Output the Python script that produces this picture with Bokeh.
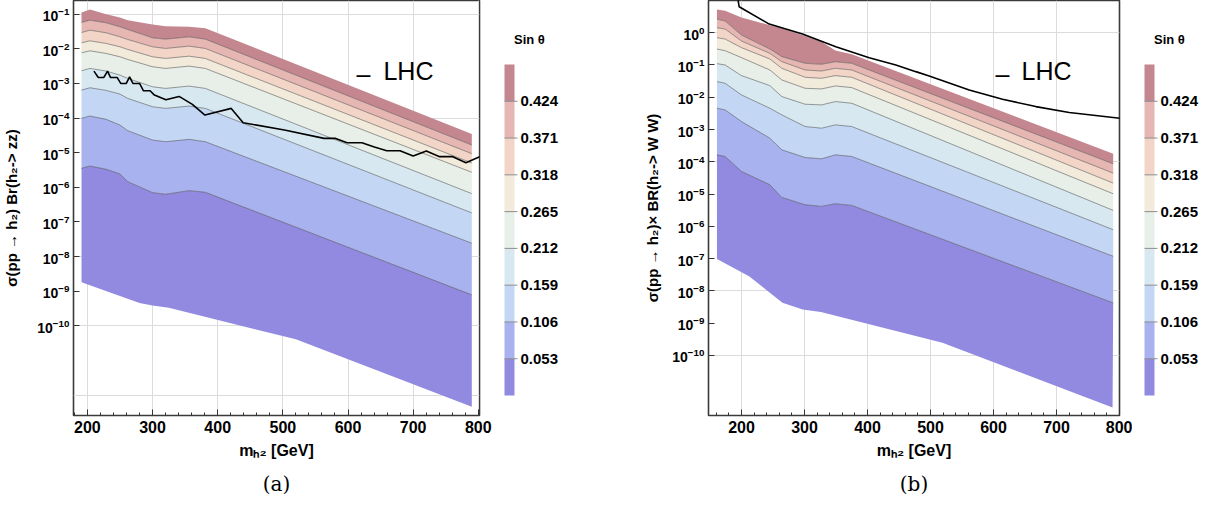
from bokeh.plotting import figure
from bokeh.models import (FixedTicker, SingleIntervalTicker, LogTickFormatter,
                          Label, Title, ColumnDataSource)
from bokeh.core.properties import value
from bokeh.layouts import row
from bokeh.embed import file_html
from bokeh.resources import INLINE

# ---------------- common ----------------
levels = [0.0, 0.053, 0.106, 0.159, 0.212, 0.265, 0.318, 0.371, 0.424, 0.477]
tick_levels = [0.053, 0.106, 0.159, 0.212, 0.265, 0.318, 0.371, 0.424]
tick_labels = ["0.053", "0.106", "0.159", "0.212", "0.265", "0.318", "0.371", "0.424"]
band_colors = ["#918ae0", "#a8b2ef", "#c3d7f4", "#d7e8f1", "#e7efe8",
               "#f2eadb", "#f2d5c7", "#e6b7b2", "#c4868f"]   # low -> high sin(theta)

# ---------------- panel (a): log10 of sigma*Br(h2->ZZ) ----------------
mass_a = [191, 204, 229, 250, 262, 300, 320, 356, 381, 790]
top_a = [-0.952, -0.865, -1.000, -1.096, -1.173, -1.298, -1.346, -1.365, -1.404, -4.462]
c424_a = [-1.240, -1.173, -1.250, -1.365, -1.442, -1.683, -1.721, -1.654, -1.721, -4.779]
c371_a = [-1.529, -1.462, -1.538, -1.654, -1.731, -1.942, -1.990, -1.923, -1.990, -5.029]
c318_a = [-1.827, -1.769, -1.846, -1.942, -2.019, -2.231, -2.279, -2.212, -2.279, -5.298]
c265_a = [-2.115, -2.058, -2.135, -2.231, -2.308, -2.519, -2.567, -2.500, -2.567, -5.567]
c212_a = [-2.635, -2.567, -2.644, -2.760, -2.856, -3.096, -3.144, -3.077, -3.144, -6.183]
c159_a = [-3.192, -3.125, -3.202, -3.308, -3.433, -3.673, -3.721, -3.654, -3.721, -6.740]
c106_a = [-4.010, -3.942, -4.038, -4.202, -4.365, -4.635, -4.683, -4.615, -4.683, -7.615]
c053_a = [-5.452, -5.385, -5.481, -5.615, -5.837, -6.154, -6.202, -6.096, -6.144, -9.106]
mass_bottom_a = [191, 280, 300, 325, 520, 790]
bottom_a = [-8.74, -9.34, -9.41, -9.48, -10.39, -12.34]
lhc_mass_a = [210.1, 216.7, 225.3, 230.9, 235.4, 245.6, 251.2, 259.7, 264.8, 269.9, 280.1,
              286.1, 296.2, 302.9, 320.5, 340.8, 361.1, 380.4, 420.8, 439.1, 502.4, 563.2,
              581.0, 598.6, 621.4, 639.2, 659.4, 679.8, 700.0, 720.2, 740.6, 760.8, 781.0, 802.0]
lhc_a = [-2.644, -2.827, -2.827, -2.644, -2.827, -2.827, -3.000, -3.000, -2.808, -3.000, -3.000,
         -3.212, -3.212, -3.337, -3.471, -3.375, -3.606, -3.913, -3.721, -4.135, -4.346, -4.587,
         -4.587, -4.712, -4.712, -4.827, -4.942, -4.942, -5.096, -4.952, -5.115, -5.115, -5.288, -5.115]

# ---------------- panel (b): log10 of sigma*BR(h2->WW) ----------------
mass_b = [161, 174, 200, 245, 264, 301, 327, 349, 375, 790]
top_b = [0.722, 0.680, 0.474, 0.230, 0.140, -0.100, -0.280, -0.550, -0.670, -3.753]
c424_b = [0.423, 0.361, -0.072, -0.505, -0.742, -0.948, -0.979, -0.897, -0.948, -4.062]
c371_b = [0.155, 0.113, -0.258, -0.639, -0.897, -1.155, -1.186, -1.103, -1.155, -4.351]
c318_b = [-0.155, -0.196, -0.464, -0.814, -1.103, -1.381, -1.412, -1.330, -1.381, -4.660]
c265_b = [-0.505, -0.557, -0.773, -1.155, -1.464, -1.722, -1.742, -1.649, -1.701, -4.990]
c212_b = [-0.959, -1.000, -1.330, -1.639, -1.979, -2.216, -2.237, -2.134, -2.186, -5.505]
c159_b = [-1.515, -1.567, -1.928, -2.340, -2.546, -2.907, -2.959, -2.856, -2.907, -6.103]
c106_b = [-2.340, -2.392, -2.753, -3.268, -3.629, -3.866, -3.907, -3.784, -3.835, -6.928]
c053_b = [-3.784, -3.835, -4.299, -4.711, -5.103, -5.330, -5.381, -5.299, -5.351, -8.371]
mass_bottom_b = [161, 212, 265, 297, 326, 519, 789]
bottom_b = [-7.008, -7.543, -8.368, -8.575, -8.656, -9.604, -11.614]
lhc_mass_b = [192.0, 196.3, 244.0, 296.8, 349.7, 402.7, 445.0, 476.7, 497.9, 561.4, 614.3,
              667.2, 720.2, 800.5]
lhc_b = [1.300, 0.803, 0.267, -0.043, -0.434, -0.774, -1.000, -1.206, -1.340, -1.773, -2.062,
         -2.289, -2.474, -2.649]

H = 509
FRAME_H = 415
FONT = "Liberation Sans"


def main_panel(width, border_left, x_range, y_log_range, mass, top, contours, mb, bottom,
               lm, lhc, y_ticks, grid_ticks, ylabel, ylabel_standoff, caption,
               leg_x, leg_y, dash_x, dash_y):
    p = figure(width=width, height=H, x_range=x_range,
               y_range=(10 ** y_log_range[0], 10 ** y_log_range[1]), y_axis_type="log",
               output_backend="svg", toolbar_location=None,
               min_border_left=border_left, min_border_right=13, min_border_top=0,
               min_border_bottom=H - FRAME_H)
    p.background_fill_color = "white"
    p.border_fill_color = "white"
    p.outline_line_color = "#3a3a3a"
    p.outline_line_width = 1.6
    p.outline_line_alpha = 1

    bounds = [(mass, top)] + [(mass, c) for c in contours] + [(mb, bottom)]
    cols = band_colors[::-1]
    for i in range(9):
        (xu, yu), (xl, yl) = bounds[i], bounds[i + 1]
        xs = list(xu) + list(xl)[::-1]
        ys = [10 ** v for v in yu] + [10 ** v for v in yl][::-1]
        p.patch(xs, ys, fill_color=cols[i], line_color=None)
    for c in contours:
        p.line(mass, [10 ** v for v in c], line_color="#4d4d4d", line_alpha=0.7, line_width=0.8)
    p.line(lm, [10 ** v for v in lhc], line_color="black", line_width=1.6)

    p.add_layout(Label(x=dash_x, y=10 ** dash_y, text="\u2013", text_font=FONT,
                       text_font_size="25px", text_color="black", text_baseline="alphabetic"))
    p.add_layout(Label(x=leg_x, y=10 ** leg_y, text="LHC", text_font=FONT,
                       text_font_size="25px", text_color="black", text_baseline="alphabetic"))

    # axes
    xa = p.xaxis[0]
    xa.ticker = SingleIntervalTicker(interval=100, num_minor_ticks=5)
    xa.major_label_text_font = FONT
    xa.major_label_text_font_style = "bold"
    xa.major_label_text_font_size = "16px"
    xa.major_label_text_color = "black"
    xa.major_label_standoff = 5
    xa.major_tick_in = 6
    xa.major_tick_out = 0
    xa.minor_tick_in = 3
    xa.minor_tick_out = 0
    xa.major_tick_line_color = "#333333"
    xa.minor_tick_line_color = "#333333"
    xa.axis_line_color = None
    xa.axis_label = "m\u2095\u2082 [GeV]"
    xa.axis_label_text_font = FONT
    xa.axis_label_text_font_style = "bold"
    xa.axis_label_text_font_size = "16px"
    xa.axis_label_text_color = "black"
    xa.axis_label_standoff = 6

    ya = p.yaxis[0]
    ya.ticker = FixedTicker(ticks=[10.0 ** k for k in y_ticks], minor_ticks=[])
    ya.formatter = LogTickFormatter()
    ya.major_label_text_font = FONT
    ya.major_label_text_font_style = "bold"
    ya.major_label_text_font_size = "14px"
    ya.major_label_text_color = "black"
    ya.major_label_standoff = 4
    ya.major_tick_in = 6
    ya.major_tick_out = 0
    ya.minor_tick_line_color = None
    ya.major_tick_line_color = "#333333"
    ya.axis_line_color = None
    ya.axis_label = ylabel
    ya.axis_label_text_font = FONT
    ya.axis_label_text_font_style = "bold"
    ya.axis_label_text_font_size = "15px"
    ya.axis_label_text_color = "black"
    ya.axis_label_standoff = ylabel_standoff

    p.xgrid.ticker = SingleIntervalTicker(interval=100)
    p.ygrid.ticker = FixedTicker(ticks=[10.0 ** k for k in grid_ticks])
    p.grid.grid_line_color = "#dcdcdc"
    p.grid.grid_line_width = 1

    p.add_layout(Title(text=caption, align="center", text_font="DejaVu Serif",
                       text_font_size="20px", text_font_style="normal", text_color="black",
                       standoff=16), "below")
    return p


def color_bar(width, bar_left):
    # the frame covers the whole canvas width; the bar sits 64px below the frame top
    per_px = levels[-1] / 331.0
    y_lo = levels[0] - (FRAME_H - 64 - 331) * per_px
    y_hi = levels[-1] + 64 * per_px
    c = figure(width=width, height=H, x_range=(0, width), y_range=(y_lo, y_hi),
               output_backend="svg", toolbar_location=None, x_axis_location=None,
               y_axis_location=None, min_border_left=0, min_border_right=0,
               min_border_top=0, min_border_bottom=H - FRAME_H)
    c.outline_line_color = None
    c.background_fill_color = "white"
    c.border_fill_color = "white"
    c.grid.visible = False
    c.quad(left=bar_left, right=bar_left + 10, bottom=levels[:-1], top=levels[1:],
           fill_color=band_colors, line_color=None)
    src = ColumnDataSource(dict(y=tick_levels, t=tick_labels))
    c.segment(x0=bar_left, x1=bar_left + 13, y0="y", y1="y", source=src,
              line_color="#8c8c8c", line_width=1)
    c.text(x=bar_left + 16, y="y", text="t", source=src, text_font=value(FONT),
           text_font_style="bold", text_font_size="15px", text_color="black",
           text_baseline="middle", text_align="left")
    c.add_layout(Label(x=bar_left + 9.5, y=levels[-1] + 25 * per_px, text="Sin \u03b8",
                       text_font=FONT, text_font_style="bold", text_font_size="13px",
                       text_color="black", text_baseline="middle"))
    return c


p_a = main_panel(492, 69, (178.7, 801.8), (-12.59, -0.605), mass_a, top_a,
                 [c424_a, c371_a, c318_a, c265_a, c212_a, c159_a, c106_a, c053_a],
                 mass_bottom_a, bottom_a, lhc_mass_a, lhc_a, list(range(-1, -11, -1)),
                 [-1, -4, -8, -10, -12], "\u03c3(pp \u2192 h\u2082) Br(h\u2082-> zz)", 14, "(a)",
                 654.4, -2.643, 612.9, -2.738)
cb_a = color_bar(110, 12)
p_b = main_panel(530, 106, (147.6, 800.0), (-11.86, 0.998), mass_b, top_b,
                 [c424_b, c371_b, c318_b, c265_b, c212_b, c159_b, c106_b, c053_b],
                 mass_bottom_b, bottom_b, lhc_mass_b, lhc_b, list(range(0, -11, -1)),
                 [0, -4, -8, -10], "\u03c3(pp \u2192 h\u2082)\u00d7 BR(h\u2082-> W W)", 8, "(b)",
                 644.4, -1.187, 603.2, -1.289)
cb_b = color_bar(77, 12)

layout = row(p_a, cb_a, p_b, cb_b, spacing=0)
open("out.html", "w").write(file_html(layout, INLINE))
